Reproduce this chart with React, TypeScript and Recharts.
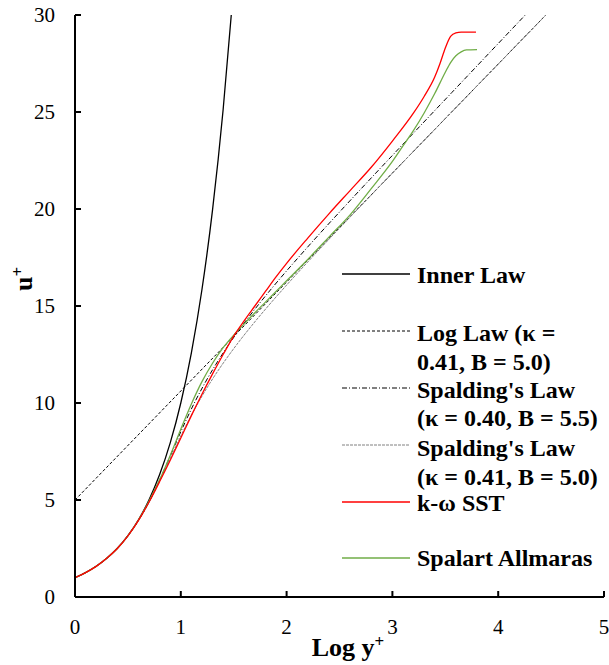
import React from "react";
import { LineChart, Line, XAxis, YAxis } from "recharts";

// ---- data (x = log y+, u = u+) ----
const xTicks = [0, 1, 2, 3, 4, 5];
const yTicks = [0, 5, 10, 15, 20, 25, 30];

const innerLaw: number[][] = [
  [0, 1], [0.1, 1.259], [0.2, 1.585], [0.3, 1.995], [0.4, 2.512], [0.5, 3.162],
  [0.6, 3.981], [0.7, 5.012], [0.8, 6.31], [0.9, 7.943], [1.0, 10], [1.1, 12.589],
  [1.2, 15.849], [1.3, 19.953], [1.4, 25.119], [1.477, 30],
];

const logLaw: number[][] = [
  [0, 5], [4.45, 30],
];

const spalding040: number[][] = [
  [0, 1], [0.1, 1.26], [0.2, 1.58], [0.3015, 2], [0.4789, 3], [0.6067, 4], [0.709, 5],
  [0.7973, 6], [0.8786, 7], [0.9581, 8], [1.0401, 9], [1.128, 10], [1.2248, 11],
  [1.3325, 12], [1.4518, 13], [1.5827, 14], [1.7238, 15], [1.8736, 16], [2.1924, 18],
  [2.5267, 20], [2.8687, 22], [3.2141, 24], [3.561, 26], [3.9083, 28], [4.2558, 30],
];

const spalding041: number[][] = [
  [0, 1], [0.1, 1.26], [0.2, 1.58], [0.3016, 2], [0.4795, 3], [0.6081, 4], [0.712, 5],
  [0.8029, 6], [0.8885, 7], [0.9741, 8], [1.0644, 9], [1.1629, 10], [1.2723, 11],
  [1.3938, 12], [1.5274, 13], [1.6721, 14], [1.826, 15], [1.9873, 16], [2.3247, 18],
  [2.6734, 20], [3.027, 22], [3.3824, 24], [3.7386, 26], [4.0949, 28], [4.4512, 30],
];

const kOmegaSST: number[][] = [
  [0, 1], [0.1, 1.26], [0.2, 1.58], [0.3, 2.0], [0.4, 2.5], [0.5, 3.15], [0.6, 3.95],
  [0.7, 4.9], [0.8, 5.95], [0.9, 7.05], [1.0, 8.2], [1.1, 9.35], [1.2, 10.45],
  [1.3, 11.5], [1.4, 12.5], [1.5, 13.45], [1.6, 14.25], [1.7, 15.0], [1.8, 15.75],
  [1.9, 16.5], [2.0, 17.2], [2.2, 18.5], [2.4, 19.75], [2.6, 20.95], [2.8, 22.15],
  [3.0, 23.5], [3.2, 24.95], [3.3, 25.8], [3.4, 26.8], [3.45, 27.5], [3.5, 28.3],
  [3.55, 28.9], [3.6, 29.08], [3.65, 29.12], [3.79, 29.12],
];

const spalartAllmaras: number[][] = [
  [0, 1], [0.1, 1.26], [0.2, 1.58], [0.3, 2.0], [0.4, 2.5], [0.5, 3.15], [0.6, 3.97],
  [0.7, 4.95], [0.8, 6.05], [0.9, 7.3], [1.0, 8.65], [1.1, 9.95], [1.2, 11.1],
  [1.3, 12.05], [1.4, 12.85], [1.5, 13.5], [1.6, 14.08], [1.7, 14.65], [1.8, 15.2],
  [1.9, 15.75], [2.0, 16.3], [2.2, 17.4], [2.4, 18.55], [2.6, 19.7], [2.8, 21.05],
  [3.0, 22.45], [3.1, 23.25], [3.2, 24.05], [3.3, 24.95], [3.4, 25.95], [3.5, 27.05],
  [3.55, 27.55], [3.6, 27.9], [3.65, 28.1], [3.7, 28.2], [3.8, 28.22],
];

const legendItems = [
  { lines: ["Inner Law"], color: "#000000", dash: undefined as string | undefined, width: 1.3 },
  { lines: ["Log Law (\u03ba =", "0.41, B = 5.0)"], color: "#000000", dash: "3 2", width: 1 },
  { lines: ["Spalding's Law", "(\u03ba = 0.40, B = 5.5)"], color: "#000000", dash: "5 2 1 2", width: 1 },
  { lines: ["Spalding's Law", "(\u03ba = 0.41, B = 5.0)"], color: "#808080", dash: "3 1", width: 1 },
  { lines: ["k-\u03c9 SST"], color: "#FF0000", dash: undefined, width: 1.3 },
  { lines: ["Spalart Allmaras"], color: "#70AD47", dash: undefined, width: 1.3 },
];

const toRows = (arr: number[][]) => arr.map(([x, u]) => ({ x, u }));

const FONT = '"Times New Roman", Times, "Liberation Serif", Tinos, "DejaVu Serif", "Noto Serif", serif';

const XTick = (props: any) => {
  const { x, y, payload } = props;
  return (
    <g>
      <line x1={x} x2={x} y1={y} y2={y - 6} stroke="#000" strokeWidth={2} />
      <text x={x} y={y + 30} textAnchor="middle" dominantBaseline="central"
        style={{ fontFamily: FONT, fontSize: 21 }} fill="#000">{payload.value}</text>
    </g>
  );
};

const YTick = (props: any) => {
  const { x, y, payload } = props;
  return (
    <g>
      <line x1={x} x2={x + 6} y1={y} y2={y} stroke="#000" strokeWidth={2} />
      <text x={x - 20} y={y} textAnchor="end" dominantBaseline="central"
        style={{ fontFamily: FONT, fontSize: 21 }} fill="#000">{payload.value}</text>
    </g>
  );
};

export default function App() {
  const legendLineY = [274, 331, 388, 445, 502, 558];
  const legendTextY = [[274.5], [333, 361.5], [389.5, 418], [448, 476.5], [502.5], [558]];
  return (
    <div style={{ position: "absolute", left: 0, top: 0, width: 609, height: 665, background: "#fff", fontFamily: FONT }}>
      <LineChart width={609} height={665} margin={{ top: 15, right: 5, bottom: 38, left: 35 }}>
        <XAxis type="number" dataKey="x" domain={[0, 5]} ticks={xTicks} interval={0}
          allowDataOverflow height={30} tickSize={0} tickMargin={0} tickLine={false}
          axisLine={{ stroke: "#000", strokeWidth: 2 }} tick={<XTick />} />
        <YAxis type="number" dataKey="u" domain={[0, 30]} ticks={yTicks} interval={0}
          allowDataOverflow width={40} tickSize={0} tickMargin={0} tickLine={false}
          axisLine={{ stroke: "#000", strokeWidth: 2 }} tick={<YTick />} />
        <Line data={toRows(logLaw)} dataKey="u" type="linear" stroke="#000" strokeWidth={1}
          strokeDasharray="3 2" dot={false} activeDot={false} isAnimationActive={false} />
        <Line data={toRows(spalding041)} dataKey="u" type="monotone" stroke="#808080" strokeWidth={1}
          strokeDasharray="3 1" dot={false} activeDot={false} isAnimationActive={false} />
        <Line data={toRows(spalding040)} dataKey="u" type="monotone" stroke="#000" strokeWidth={1}
          strokeDasharray="5 2 1 2" dot={false} activeDot={false} isAnimationActive={false} />
        <Line data={toRows(innerLaw)} dataKey="u" type="monotone" stroke="#000" strokeWidth={1.3}
          dot={false} activeDot={false} isAnimationActive={false} />
        <Line data={toRows(spalartAllmaras)} dataKey="u" type="monotone" stroke="#70AD47" strokeWidth={1.3}
          dot={false} activeDot={false} isAnimationActive={false} />
        <Line data={toRows(kOmegaSST)} dataKey="u" type="monotone" stroke="#FF0000" strokeWidth={1.3}
          dot={false} activeDot={false} isAnimationActive={false} />
      </LineChart>
      <svg width={609} height={665} style={{ position: "absolute", left: 0, top: 0, pointerEvents: "none" }}>
        {legendItems.map((it, i) => (
          <g key={i}>
            <line x1={342} x2={410} y1={legendLineY[i]} y2={legendLineY[i]} stroke={it.color}
              strokeWidth={it.width} strokeDasharray={it.dash} />
            {it.lines.map((t, j) => (
              <text key={j} x={417} y={legendTextY[i][j]} dominantBaseline="central"
                style={{ fontFamily: FONT, fontSize: 24, fontWeight: "bold" }} fill="#000">{t}</text>
            ))}
          </g>
        ))}
        <text x={348} y={656} textAnchor="middle"
          style={{ fontFamily: FONT, fontSize: 26, fontWeight: "bold" }} fill="#000">
          Log y<tspan dy={-9} style={{ fontSize: 17 }}>+</tspan>
        </text>
        <text x={32} y={291} transform="rotate(-90 32 291)"
          style={{ fontFamily: FONT, fontSize: 26, fontWeight: "bold" }} fill="#000">
          u<tspan dy={-9} style={{ fontSize: 17 }}>+</tspan>
        </text>
      </svg>
    </div>
  );
}
